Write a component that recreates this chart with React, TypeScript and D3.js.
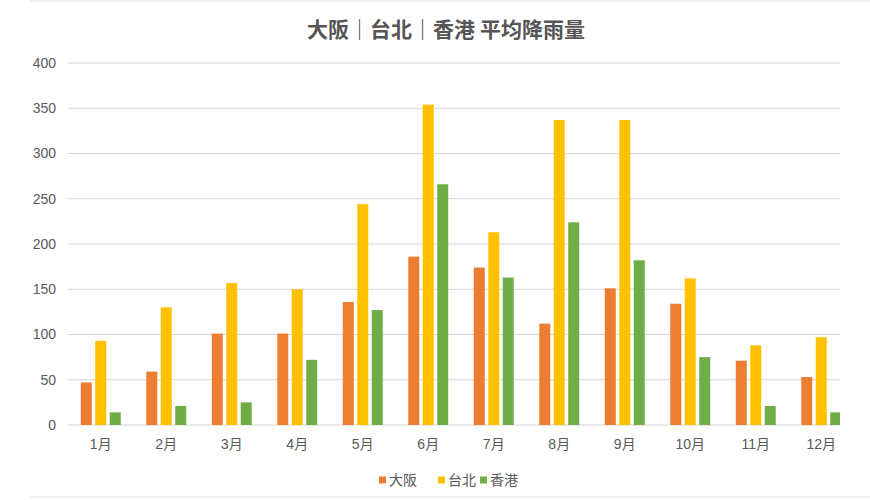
import * as d3 from "d3";

const months = ["1月", "2月", "3月", "4月", "5月", "6月", "7月", "8月", "9月", "10月", "11月", "12月"];
const cities = ["大阪", "台北", "香港"];
const osaka = [47, 59, 101, 101, 136, 186, 174, 112, 151, 134, 71, 53];
const taipei = [93, 130, 157, 150, 244, 354, 213, 337, 337, 162, 88, 97];
const hongkong = [14, 21, 25, 72, 127, 266, 163, 224, 182, 75, 21, 14];
const colors = ["#ED7D31", "#FFC000", "#70AD47"];
const yTicks = [0, 50, 100, 150, 200, 250, 300, 350, 400];

const W = 870;
const H = 500;
const font = "'Liberation Sans', 'Noto Sans CJK SC', sans-serif";
const textColor = "#595959";

export default function App() {
  const series = [osaka, taipei, hongkong];

  // plot area; the right side is cut off at 840 like the screenshot
  const x = d3.scaleBand().domain(months).range([68, 854]).paddingInner(0.39).paddingOuter(0.195);
  const inner = d3.scaleBand().domain(cities).range([0, x.bandwidth()]).paddingInner(0.24);
  const y = d3.scaleLinear().domain([0, 400]).range([425, 63]);
  const clipRight = 840;

  // legend layout
  const legendX = [379, 438, 480];

  return (
    <svg width={W} height={H} style={{ position: "absolute", left: 0, top: 0, background: "#fff" }}>
      <defs>
        <clipPath id="plotClip">
          <rect x={0} y={0} width={clipRight} height={H} />
        </clipPath>
      </defs>
      {/* faint frame of the pasted chart */}
      <line x1={30} x2={W} y1={1} y2={1} stroke="#e3e3e3" />
      <line x1={30} x2={W} y1={497} y2={497} stroke="#e3e3e3" />

      <text x={446} y={37} textAnchor="middle" fontFamily="'Noto Sans CJK SC', sans-serif" fontSize={21} fontWeight="bold" fill="#555">
        大阪｜台北｜香港 平均降雨量
      </text>

      <g clipPath="url(#plotClip)">
        {yTicks.map((t) => (
          <line key={t} x1={68} x2={clipRight} y1={y(t)} y2={y(t)} stroke="#d4d4d4" strokeWidth={1} />
        ))}
        {months.map((m, i) => (
          <g key={m} transform={`translate(${x(m)},0)`}>
            {series.map((s, k) => (
              <rect
                key={k}
                x={inner(cities[k])}
                y={y(s[i])}
                width={inner.bandwidth()}
                height={y(0) - y(s[i])}
                fill={colors[k]}
              />
            ))}
          </g>
        ))}
      </g>

      {yTicks.map((t) => (
        <text key={t} x={56} y={y(t)} dy="0.35em" textAnchor="end" fontFamily={font} fontSize={14} fill={textColor}>
          {t}
        </text>
      ))}

      {months.map((m) => (
        <text key={m} x={(x(m) ?? 0) + x.bandwidth() / 2} y={444} dy="0.35em" textAnchor="middle" fontFamily={font} fontSize={14} fill={textColor}>
          {m}
        </text>
      ))}

      {cities.map((c, k) => (
        <g key={c} transform={`translate(${legendX[k]},480)`}>
          <rect x={0} y={-3.5} width={7} height={7} fill={colors[k]} />
          <text x={10} dy="0.35em" fontFamily={font} fontSize={14} fill={textColor}>
            {c}
          </text>
        </g>
      ))}
    </svg>
  );
}
